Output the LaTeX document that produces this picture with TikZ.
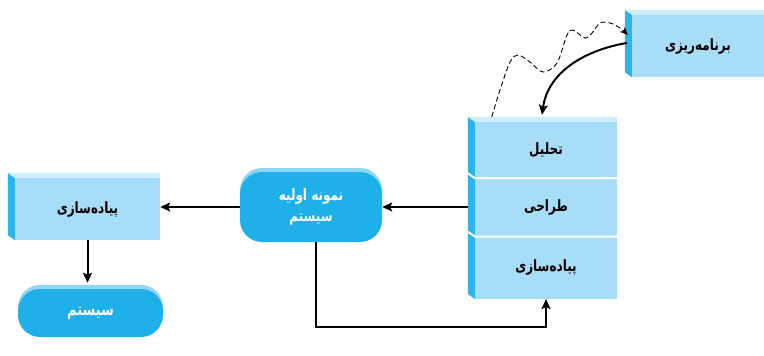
\documentclass[tikz,border=0pt]{standalone}
\usepackage{fontspec}
\usetikzlibrary{calc,arrows.meta,shadows}
\TeXXeTstate=1
\newfontfamily\fa[Script=Arabic]{DejaVu Sans}
\newcommand\fatext[1]{\scalebox{1}[1.3]{\fa\bfseries\beginR #1\endR}}

\definecolor{boxfront}{HTML}{A8DDF7}
\definecolor{boxtop}{HTML}{CFEEFB}
\definecolor{boxside}{HTML}{2DB4EA}
\definecolor{pillmain}{HTML}{1FB0EA}
\definecolor{pilltop}{HTML}{8FD6F5}

% side and top faces of a solid slab spanning nodes #1 (top) to #2 (bottom)
\newcommand\slabfaces[2]{%
  \fill[boxside] ($(#1.north west)+(-7,-5)$) -- (#1.north west) -- (#2.south west) -- ($(#2.south west)+(-7,-5)$) -- cycle;
  \fill[boxtop] ($(#1.north west)+(-7,-5)$) -- ($(#1.north east)+(0,-5)$) -- (#1.north east) -- (#1.north west) -- cycle;
}

\begin{document}
\begin{tikzpicture}[x=1pt,y=-1pt,
  every node/.style={font=\fontsize{12}{18}\selectfont},
  face/.style={fill=boxfront, draw=none, inner sep=0pt, minimum width=#1},
  face/.default=142pt,
  pill/.style={fill=pillmain, draw=none, rounded corners=22pt, inner sep=0pt,
    text=white, align=center,
    copy shadow={shadow xshift=0pt, shadow yshift=4pt, fill=pilltop, draw=none}},
  arr/.style={line width=2pt, -{Stealth[length=10pt,width=9pt,inset=2pt]}},
  divider/.style={white, line width=2pt}]
\useasboundingbox (0,0) rectangle (764,356);

% planning box, top right
\node[face=132pt, minimum height=62pt] (plan) at (698,46) {\fatext{برنامه‌ریزی}};

% stacked phases
\node[face, minimum height=56pt] (s1) at (546,150) {\fatext{تحلیل}};
\node[face, minimum height=58pt, anchor=north] (s2) at (s1.south) {\fatext{طراحی}};
\node[face, minimum height=62pt, anchor=north] (s3) at (s2.south) {\fatext{پیاده‌سازی}};

% implementation box, left
\node[face=145pt, minimum height=62pt] (impl) at (87.5,209) {\fatext{پیاده‌سازی}};

% rounded shapes
\node[pill, minimum width=142pt, minimum height=70pt] (proto) at (311,207)
  {\fatext{نمونه اولیه}\\[3pt]\fatext{سیستم}};
\node[pill, minimum width=145pt, minimum height=48pt] (sys) at (90.5,313)
  {\fontsize{13}{18}\selectfont\fatext{سیستم}};

% 3D faces
\slabfaces{plan}{plan}
\slabfaces{s1}{s3}
\slabfaces{impl}{impl}
\draw[divider] ($(s1.south west)+(-7,-5)$) -- (s1.south west) -- (s1.south east);
\draw[divider] ($(s2.south west)+(-7,-5)$) -- (s2.south west) -- (s2.south east);

% connectors
\coordinate (stkedge) at ($(s2.west)+(-7,0)$);
\draw[arr] (proto.east -| stkedge) -- (proto.east);
\draw[arr] (proto.west) -- (proto.west -| impl.east);
\coordinate (systop) at ($(impl.south |- sys.north)+(0,-6)$);
\draw[arr] (impl.south) -- (systop);
\coordinate (loopstart) at ($(proto.south)+(5,0)$);
\draw[arr] (loopstart) -- ++(0,85) -| (s3.south);

\coordinate (planout) at ($(plan.west)+(-5,-3)$);
\coordinate (stkin) at ($(s1.north)+(-4,-7)$);
\draw[arr] (planout) .. controls (585,50) and (548,72) .. (stkin);

\coordinate (wavestart) at ($(s1.north west)+(17,-5)$);
\coordinate (waveend) at ($(plan.west)+(-4,-11)$);
\draw[dash pattern=on 5pt off 3pt, line width=0.9pt, -{Stealth[length=8pt,width=7pt]}]
  plot[smooth, tension=0.55] coordinates {(wavestart) (500,90) (510,62) (518,55) (530,62) (543,72) (557,63) (567,35) (573,30) (585,38) (592,33) (600,23) (610,23) (620,28) (waveend)};
\end{tikzpicture}
\end{document}
